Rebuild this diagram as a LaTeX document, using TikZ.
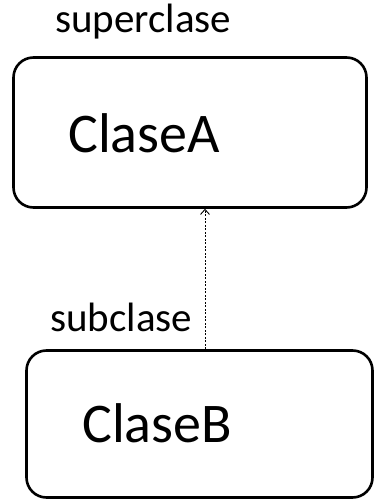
\documentclass[tikz,border=0pt]{standalone}
\usepackage{fontspec}
\setmainfont{Carlito}
\usetikzlibrary{arrows.meta}
\tikzset{
  classbox/.style={draw=black, line width=2.6pt, rounded corners=20pt, inner sep=0pt},
  bigtext/.style={font=\fontsize{56}{60}\selectfont, inner sep=0pt},
  roletext/.style={font=\fontsize{41}{46}\selectfont, inner sep=0pt},
  inherit/.style={line width=0.8pt, dash pattern=on 2pt off 1.5pt, -{Straight Barb[length=5pt,width=9pt,line width=0.9pt]}}
}
\begin{document}
\begin{tikzpicture}[x=1pt,y=1pt]
\useasboundingbox (0,0) rectangle (374,501);
\node[classbox, minimum width=353pt, minimum height=150pt] (A) at (190,368.5) {};
\node[classbox, minimum width=346pt, minimum height=147pt] (B) at (199.5,77) {};
\node[bigtext, anchor=base west] (Atext) at (68,348) {ClaseA};
\node[bigtext, anchor=base west] (Btext) at (82,58) {ClaseB};
\node[roletext, anchor=base west] (sup) at (55,468) {superclase};
\node[roletext, anchor=base west] (sub) at (50,169) {subclase};
\coordinate (bot) at (205,0);
\draw[inherit] (B.north -| bot) -- (A.south -| bot);
\end{tikzpicture}
\end{document}
